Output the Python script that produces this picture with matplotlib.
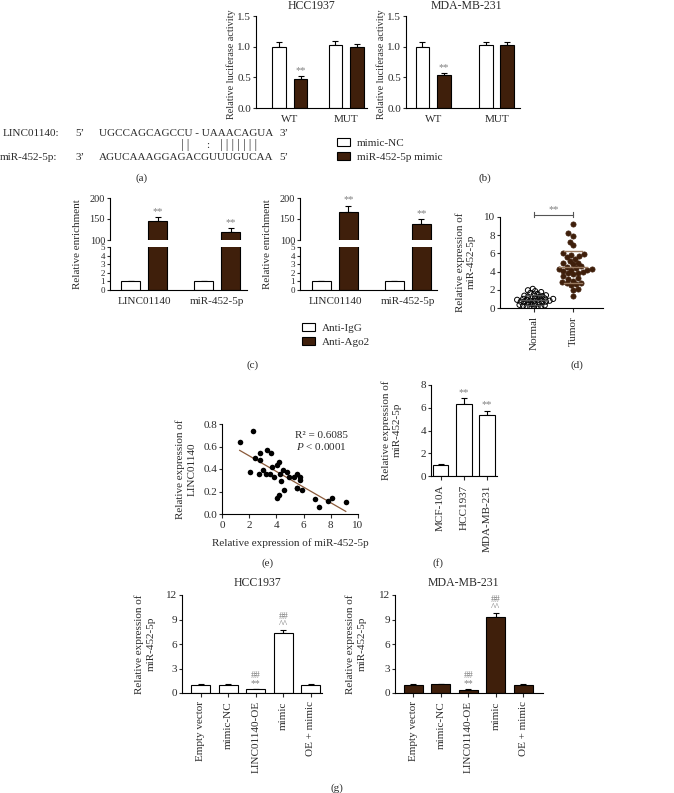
import numpy as np
import matplotlib
matplotlib.use('Agg')
import matplotlib.pyplot as plt
from matplotlib.patches import Patch

# ---------------- data ----------------
b_groups = ['WT', 'MUT']
b_hcc_nc = [1.00, 1.02]
b_hcc_nc_err = [0.08, 0.08]
b_hcc_mimic = [0.48, 1.00]
b_hcc_mimic_err = [0.04, 0.05]
b_mda_nc = [1.00, 1.02]
b_mda_nc_err = [0.08, 0.05]
b_mda_mimic = [0.53, 1.03]
b_mda_mimic_err = [0.04, 0.04]

c_groups = ['LINC01140', 'miR-452-5p']
c1_igg = [1.0, 1.0]
c1_igg_err = [0.08, 0.08]
c1_ago2 = [145, 120]
c1_ago2_err = [9, 8]
c2_igg = [1.0, 1.0]
c2_igg_err = [0.08, 0.08]
c2_ago2 = [167, 138]
c2_ago2_err = [14, 11]

d_groups = ['Normal', 'Tumor']
d_normal = [2.1, 1.95, 1.85, 1.75, 1.65, 1.55, 1.5, 1.4, 1.35, 1.3, 1.25, 1.2, 1.15, 1.1,
            1.05, 1.0, 1.0, 0.95, 0.9, 0.9, 0.85, 0.8, 0.8, 0.75, 0.7, 0.7, 0.65, 0.6, 0.55,
            0.5, 0.45, 0.4, 0.35, 0.3, 0.25, 0.2, 0.15, 0.1, 0.1, 0.05]
d_tumor = [9.2, 8.2, 7.9, 7.3, 6.9, 6.0, 5.9, 5.8, 5.7, 5.6, 5.4, 5.2, 5.0, 4.9, 4.8, 4.6,
           4.5, 4.4, 4.3, 4.3, 4.2, 4.2, 4.1, 4.0, 3.9, 3.8, 3.7, 3.5, 3.3, 3.2, 3.0, 2.9,
           2.8, 2.7, 2.6, 2.5, 2.1, 2.0, 1.3]

e_x = [1.3, 2.25, 2.08, 2.44, 2.81, 2.81, 2.69, 3.05, 3.25, 3.3, 3.6, 3.55, 3.67, 3.79,
       4.03, 4.2, 4.28, 4.03, 4.2, 4.33, 4.52, 4.57, 4.8, 4.9, 5.26, 5.5, 5.5, 5.7, 5.75,
       5.87, 5.54, 6.85, 7.16, 7.82, 8.12, 9.1]
e_y = [0.637, 0.74, 0.376, 0.495, 0.54, 0.48, 0.36, 0.39, 0.36, 0.57, 0.54, 0.36, 0.42,
       0.33, 0.435, 0.46, 0.36, 0.14, 0.17, 0.29, 0.39, 0.21, 0.37, 0.33, 0.33, 0.36, 0.23,
       0.33, 0.30, 0.21, 0.235, 0.13, 0.06, 0.12, 0.14, 0.11]
e_r2 = 'R\u00b2 = 0.6085'
e_p = r'$P$ < 0.0001'

f_cells = ['MCF-10A', 'HCC1937', 'MDA-MB-231']
f_vals = [1.0, 6.3, 5.35]
f_err = [0.04, 0.53, 0.38]
f_marks = ['', '**', '**']

g_groups = ['Empty vector', 'mimic-NC', 'LINC01140-OE', 'mimic', 'OE + mimic']
g1_vals = [1.0, 1.0, 0.45, 7.33, 1.0]
g1_err = [0.08, 0.08, 0.08, 0.4, 0.1]
g2_vals = [1.0, 1.1, 0.4, 9.3, 1.0]
g2_err = [0.05, 0.06, 0.06, 0.55, 0.08]
g_marks_low = ['', '', '**', '^^', '']
g_marks_high = ['', '', '##', '##', '']

# ---------------- style ----------------
W, H = 674, 793
plt.rcParams['font.family'] = ['Liberation Serif', 'DejaVu Serif']
plt.rcParams['mathtext.fontset'] = 'custom'
plt.rcParams['mathtext.rm'] = 'Liberation Serif'
plt.rcParams['mathtext.it'] = 'Liberation Serif:italic'
FS = 8
TXT = '#2b2b2b'
BROWN = '#3f1f0b'
STAR = '#808080'
LW = 0.8

fig = plt.figure(figsize=(W / 100, H / 100), dpi=100)


def axrect(l, t, r, b):
    return fig.add_axes([l / W, 1 - b / H, (r - l) / W, (b - t) / H])


def ftext(x, y, s, **kw):
    kw.setdefault('fontsize', FS)
    kw.setdefault('color', TXT)
    kw.setdefault('ha', 'center')
    kw.setdefault('va', 'center')
    fig.text(x / W, 1 - y / H, s, **kw)


def style(ax, xticks_len=0):
    for s in ['top', 'right']:
        ax.spines[s].set_visible(False)
    for s in ['left', 'bottom']:
        ax.spines[s].set_linewidth(LW)
    ax.tick_params(axis='y', length=2.5, width=LW, colors=TXT, labelsize=FS, pad=1)
    ax.tick_params(axis='x', length=xticks_len, width=LW, colors=TXT, labelsize=FS, pad=3)
    ax.set_facecolor('none')


def bars(ax, x, vals, err, color, width):
    ax.bar(x, vals, width, color=color, edgecolor='black', linewidth=LW, zorder=2)
    if err is not None:
        ax.errorbar(x, vals, yerr=[np.zeros(len(vals)), err], fmt='none', ecolor='black',
                    elinewidth=LW, capsize=2.5, capthick=LW, zorder=1)


def stars(ax, x, tops, marks, off=1.0, color=STAR, fs=7.5):
    for xi, t, m in zip(x, tops, marks):
        if m:
            ax.annotate(m, (xi, t), xytext=(0, off), textcoords='offset points',
                        ha='center', va='bottom', fontsize=fs, color=color,
                        annotation_clip=False)


# ---------------- (a) ----------------
ftext(3, 133, 'LINC01140:', ha='left')
ftext(80, 133, '5\u2019')
ftext(99, 133, 'UGCCAGCAGCCU - UAAACAGUA', ha='left')
ftext(284, 133, '3\u2019')
ftext(185, 145, '| |', fontsize=9)
ftext(208, 145, ':', fontsize=8)
ftext(239, 145, '| | | | | | |', fontsize=9)
ftext(0, 157, 'miR-452-5p:', ha='left')
ftext(80, 157, '3\u2019')
ftext(99, 157, 'AGUCAAAGGAGACGUUUGUCAA', ha='left')
ftext(284, 157, '5\u2019')
ftext(142, 178, '(a)')

# ---------------- (b) ----------------
def panel_b(rect, title, tx, ylx, nc, nce, mi, mie, xl, off, bw):
    ax = axrect(*rect)
    style(ax)
    x = np.arange(len(b_groups))
    bars(ax, x - off, nc, nce, 'white', bw)
    bars(ax, x + off, mi, mie, BROWN, bw)
    stars(ax, [x[0] + off], [mi[0] + mie[0]], ['**'])
    ax.set_ylim(0, 1.5)
    ax.set_yticks([0, 0.5, 1.0, 1.5])
    ax.set_yticklabels(['0.0', '0.5', '1.0', '1.5'])
    ax.set_xlim(*xl)
    ax.set_xticks(x)
    ax.set_xticklabels(b_groups)
    ax.tick_params(axis='x', pad=5)
    ftext(tx, 6, title, fontsize=8.5)
    ftext(ylx, 64, 'Relative luciferase activity', rotation=90, fontsize=7.3)
    return ax

panel_b((256, 16, 367, 108), 'HCC1937', 311, 231, b_hcc_nc, b_hcc_nc_err, b_hcc_mimic,
        b_hcc_mimic_err, (-0.6, 1.37), 0.19, 0.245)
panel_b((406, 16, 520, 108), 'MDA-MB-231', 466, 381, b_mda_nc, b_mda_nc_err, b_mda_mimic,
        b_mda_mimic_err, (-0.43, 1.37), 0.17, 0.22)
fig.legend([Patch(facecolor='white', edgecolor='black', linewidth=LW),
            Patch(facecolor=BROWN, edgecolor='black', linewidth=LW)],
           ['mimic-NC', 'miR-452-5p mimic'], loc='center left',
           bbox_to_anchor=(337 / W, 1 - 150 / H), frameon=False, fontsize=FS,
           handlelength=1.2, handleheight=0.7, labelspacing=0.35, handletextpad=0.6,
           labelcolor=TXT, borderpad=0, borderaxespad=0)
ftext(485, 178, '(b)')

# ---------------- (c) ----------------
def panel_c(l, r, ylx, igg, igge, ago, agoe, xl):
    top = axrect(l, 198, r, 240)
    bot = axrect(l, 247, r, 290)
    x = np.arange(len(c_groups))
    off, bw = 0.185, 0.26
    for ax in (top, bot):
        style(ax)
        bars(ax, x - off, igg, igge if ax is bot else None, 'white', bw)
        bars(ax, x + off, ago, agoe if ax is top else None, BROWN, bw)
        ax.set_xlim(*xl)
    top.set_ylim(100, 200)
    top.set_yticks([100, 150, 200])
    top.tick_params(axis='y', labelsize=7.5)
    top.spines['bottom'].set_visible(False)
    top.set_xticks([])
    stars(top, x + off, np.array(ago) + np.array(agoe), ['**', '**'])
    bot.set_ylim(0, 5)
    bot.set_yticks([0, 1, 2, 3, 4, 5])
    bot.tick_params(axis='y', labelsize=6.5)
    bot.set_xticks(x)
    bot.set_xticklabels(c_groups)
    bot.tick_params(axis='x', pad=5)
    ftext(ylx, 244, 'Relative enrichment', rotation=90)

panel_c(110, 247, 78, c1_igg, c1_igg_err, c1_ago2, c1_ago2_err, (-0.47, 1.41))
panel_c(300, 437, 268, c2_igg, c2_igg_err, c2_ago2, c2_ago2_err, (-0.48, 1.40))
fig.legend([Patch(facecolor='white', edgecolor='black', linewidth=LW),
            Patch(facecolor=BROWN, edgecolor='black', linewidth=LW)],
           ['Anti-IgG', 'Anti-Ago2'], loc='center left',
           bbox_to_anchor=(302 / W, 1 - 335 / H), frameon=False, fontsize=FS,
           handlelength=1.2, handleheight=0.7, labelspacing=0.35, handletextpad=0.6,
           labelcolor=TXT, borderpad=0, borderaxespad=0)
ftext(253, 365, '(c)')

# ---------------- (d) ----------------
def swarm(vals, xpx, ypx, diam, step):
    vals = np.asarray(vals, float)
    order = np.argsort(vals)
    placed = []
    offs = np.zeros(len(vals))
    for n, i in enumerate(order):
        y = vals[i] * ypx
        sgn0 = 1 if n % 2 == 0 else -1
        chosen = 0.0
        for k in range(0, 80):
            cands = [0.0] if k == 0 else [sgn0 * k * step, -sgn0 * k * step]
            found = False
            for c in cands:
                if all((c - px) ** 2 + (y - py) ** 2 >= diam ** 2 for px, py in placed):
                    chosen, found = c, True
                    break
            if found:
                break
        placed.append((chosen, y))
        offs[i] = chosen / xpx
    return offs

axd = axrect(500, 217, 603, 308)
style(axd, xticks_len=3)
xpx, ypx = 39.0, 9.1
nx = 0 + swarm(d_normal, xpx, ypx, 3.2, 1.2)
tx = 1 + swarm(d_tumor, xpx, ypx, 4.8, 1.6)
axd.scatter(nx, d_normal, s=14, facecolor='none', edgecolor='black', linewidth=0.7, zorder=3)
axd.scatter(tx, d_tumor, s=14, facecolor=BROWN, edgecolor=BROWN, linewidth=0.5, zorder=3)
for xc, vals, col in ((0, d_normal, '#555555'), (1, d_tumor, '#9a7a60')):
    m, sd = np.mean(vals), np.std(vals, ddof=1)
    axd.plot([xc - 0.35, xc + 0.35], [m, m], color=col, lw=1.0, zorder=4)
    axd.plot([xc - 0.22, xc + 0.22], [m - sd, m - sd], color=col, lw=1.0, zorder=4)
    axd.plot([xc - 0.22, xc + 0.22], [m + sd, m + sd], color=col, lw=1.0, zorder=4)
axd.plot([0, 1], [10.25, 10.25], color='#555555', lw=0.8, clip_on=False)
axd.plot([0, 0], [9.95, 10.55], color='#555555', lw=0.8, clip_on=False)
axd.plot([1, 1], [9.95, 10.55], color='#555555', lw=0.8, clip_on=False)
axd.text(0.5, 10.35, '**', ha='center', va='bottom', fontsize=7.5, color=STAR)
axd.set_ylim(0, 10)
axd.set_yticks([0, 2, 4, 6, 8, 10])
axd.set_xlim(-0.87, 1.77)
axd.set_xticks([0, 1])
axd.set_xticklabels(d_groups, rotation=90)
ftext(466, 262, 'Relative expression of\nmiR-452-5p', rotation=90, linespacing=1.25)
ftext(577, 365, '(d)')

# ---------------- (e) ----------------
axe = axrect(222, 424, 358, 514)
style(axe, xticks_len=3)
axe.scatter(e_x, e_y, s=16, color='black', zorder=3, linewidths=0)
k, b0 = np.polyfit(e_x, e_y, 1)
xs = np.array([min(e_x), max(e_x)])
axe.plot(xs, k * xs + b0, color='#8a5a3a', lw=0.9, zorder=2)
axe.set_xlim(0, 10)
axe.set_ylim(0, 0.8)
axe.set_xticks([0, 2, 4, 6, 8, 10])
axe.set_yticks([0, 0.2, 0.4, 0.6, 0.8])
axe.set_yticklabels(['0.0', '0.2', '0.4', '0.6', '0.8'])
axe.tick_params(axis='x', pad=2)
ftext(321, 435, e_r2)
ftext(321, 447, e_p)
ftext(290, 543, 'Relative expression of miR-452-5p')
ftext(186, 469, 'Relative expression of\nLINC01140', rotation=90, linespacing=1.25)
ftext(268, 563, '(e)')

# ---------------- (f) ----------------
axf = axrect(431, 385, 497, 476)
style(axf, xticks_len=3)
xf = np.arange(len(f_cells))
bars(axf, xf, f_vals, f_err, 'white', 0.67)
stars(axf, xf, np.array(f_vals) + np.array(f_err), f_marks)
axf.set_ylim(0, 8)
axf.set_yticks([0, 2, 4, 6, 8])
axf.set_xlim(-0.41, 2.42)
axf.set_xticks(xf)
axf.set_xticklabels(f_cells, rotation=90)
ftext(392, 430, 'Relative expression of\nmiR-452-5p', rotation=90, linespacing=1.25)
ftext(438, 563, '(f)')

# ---------------- (g) ----------------
def panel_g(rect, title, tx, ylx, vals, err, color, xl):
    ax = axrect(*rect)
    style(ax, xticks_len=3)
    x = np.arange(len(g_groups))
    bars(ax, x, vals, err, color, 0.69)
    tops = np.array(vals) + np.array(err)
    stars(ax, x, tops, g_marks_low, off=0.5, fs=7)
    stars(ax, x, tops, g_marks_high, off=6.5, fs=7)
    ax.set_ylim(0, 12)
    ax.set_yticks([0, 3, 6, 9, 12])
    ax.set_xlim(*xl)
    ax.set_xticks(x)
    ax.set_xticklabels(g_groups, rotation=90)
    ftext(tx, 583, title, fontsize=8.5)
    ftext(ylx, 644, 'Relative expression of\nmiR-452-5p', rotation=90, linespacing=1.35)

panel_g((182, 595, 322, 693), 'HCC1937', 257, 145, g1_vals, g1_err, 'white', (-0.67, 4.4))
panel_g((395, 595, 543, 693), 'MDA-MB-231', 463, 356, g2_vals, g2_err, BROWN, (-0.67, 4.71))
ftext(337, 788, '(g)')

fig.savefig('out.png', dpi=100)
